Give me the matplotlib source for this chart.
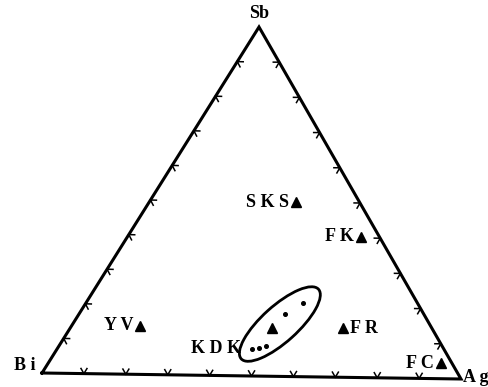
import matplotlib
matplotlib.use('Agg')
import numpy as np
import matplotlib.pyplot as plt
from matplotlib.patches import Ellipse

# Составы (доли Bi, Sb, Ag) для точек-месторождений
labels = ['SKS', 'FK', 'YV', 'KDK', 'FR', 'FC']
bi = [0.153, 0.044, 0.699, 0.385, 0.214, 0.026]
sb = [0.500, 0.403, 0.139, 0.138, 0.141, 0.045]
ag = [0.347, 0.553, 0.162, 0.477, 0.645, 0.929]

# Мелкие точки внутри эллипса (KDK)
dot_sb = [0.179, 0.211, 0.077, 0.081, 0.087]
dot_ag = [0.487, 0.514, 0.461, 0.476, 0.490]

# Вершины треугольника в пикселях картинки
BI = np.array([42.0, 373.0])
AG = np.array([461.0, 379.0])
SB = np.array([259.0, 27.0])


def tern(s, a):
	s = np.asarray(s)
	a = np.asarray(a)
	p = BI + np.outer(a, AG - BI) + np.outer(s, SB - BI)
	return p[:, 0], p[:, 1]


fig = plt.figure(figsize=(4.88, 3.87), dpi=100)
ax = fig.add_axes([0, 0, 1, 1])
ax.set_xlim(0, 488)
ax.set_ylim(387, 0)
ax.axis('off')

# Стороны треугольника
tri = np.array([BI, AG, SB, BI])
ax.plot(tri[:, 0], tri[:, 1], color='black', lw=2.2, solid_joinstyle='miter')

# Засечки через 10%
center = (BI + AG + SB) / 3
for p0, p1 in [(BI, AG), (AG, SB), (SB, BI)]:
	d = (p1 - p0) / np.linalg.norm(p1 - p0)
	n = np.array([-d[1], d[0]])
	if np.dot(center - p0, n) < 0:
		n = -n
	for t in np.arange(1, 10) / 10:
		q = p0 + t * (p1 - p0)
		for sgn in (-1, 1):
			e = q + 6 * (0.85 * n + sgn * 0.5 * d)
			ax.plot([q[0], e[0]], [q[1], e[1]], color='black', lw=1.1)

# Точки-треугольники
x, y = tern(sb, ag)
ax.plot(x, y, '^', color='black', ms=7.5, ls='none')

# Мелкие точки
dx, dy = tern(dot_sb, dot_ag)
ax.plot(dx, dy, 'o', color='black', ms=2.6, ls='none')

# Эллипс вокруг группы KDK
ex, ey = tern([0.150], [0.490])
ax.add_patch(Ellipse((ex[0], ey[0]), 104, 36, angle=-42, fill=False,
						edgecolor='black', lw=2.0))

font = dict(family='Liberation Serif', fontweight='bold', fontsize=13, color='black')
txt = {'SKS': 'S K S', 'FK': 'F K', 'YV': 'Y V', 'KDK': 'K D K', 'FR': 'F R', 'FC': 'F C'}
for i, lab in enumerate(labels):
	if lab == 'FR':
		ax.text(x[i] + 7, y[i], txt[lab], ha='left', va='center', **font)
	elif lab == 'KDK':
		ax.text(x[i] - 31, y[i] + 20, txt[lab], ha='right', va='center', **font)
	else:
		ax.text(x[i] - 7, y[i], txt[lab], ha='right', va='center', **font)

# Подписи вершин
ax.text(SB[0], SB[1] - 5, 'Sb', ha='center', va='bottom', **font)
ax.text(BI[0] - 6, BI[1] - 7, 'B i', ha='right', va='center', **font)
ax.text(AG[0] + 2, AG[1] - 1, 'A g', ha='left', va='center', **font)

fig.savefig('out.png', dpi=100)
